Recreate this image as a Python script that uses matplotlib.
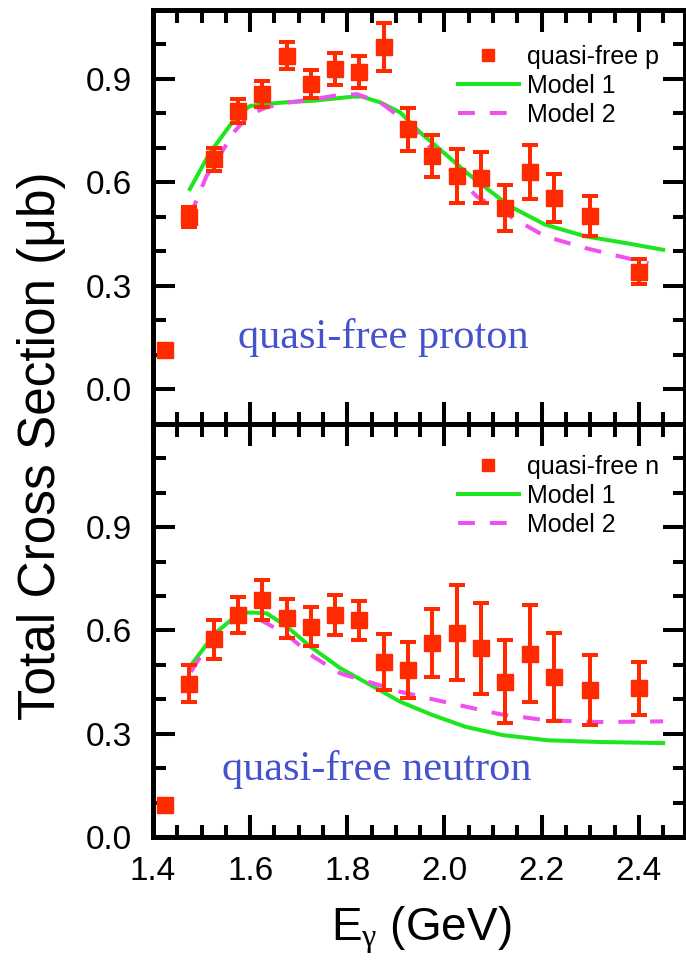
import matplotlib
matplotlib.use('Agg')
import matplotlib.pyplot as plt
from matplotlib.ticker import MultipleLocator, FixedLocator, FormatStrFormatter

plt.rcParams['font.family'] = ['Liberation Sans', 'DejaVu Sans']
plt.rcParams['mathtext.fontset'] = 'custom'
plt.rcParams['mathtext.rm'] = 'Liberation Sans'
plt.rcParams['mathtext.it'] = 'Liberation Serif'

# photon energy bins (GeV)
e_gamma = [1.425, 1.475, 1.525, 1.575, 1.625, 1.675, 1.725, 1.775, 1.825, 1.875,
           1.925, 1.975, 2.025, 2.075, 2.125, 2.175, 2.225, 2.30, 2.40]

# quasi-free proton data
sig_p = [0.115, 0.50, 0.667, 0.808, 0.856, 0.968, 0.886, 0.929, 0.920, 0.992,
         0.754, 0.677, 0.618, 0.614, 0.526, 0.630, 0.556, 0.504, 0.342]
err_p = [0.01, 0.03, 0.034, 0.035, 0.037, 0.04, 0.041, 0.045, 0.047, 0.07,
         0.063, 0.06, 0.078, 0.074, 0.068, 0.079, 0.07, 0.058, 0.037]

# quasi-free neutron data
sig_n = [0.092, 0.446, 0.574, 0.645, 0.688, 0.635, 0.611, 0.645, 0.630, 0.509,
         0.485, 0.563, 0.593, 0.548, 0.451, 0.533, 0.465, 0.427, 0.432]
err_n = [0.012, 0.053, 0.056, 0.053, 0.058, 0.056, 0.056, 0.058, 0.057, 0.081,
         0.082, 0.099, 0.138, 0.132, 0.121, 0.14, 0.127, 0.102, 0.077]

# model curves, proton
m1p_x = [1.476, 1.517, 1.573, 1.60, 1.668, 1.73, 1.813, 1.83, 1.868, 1.909,
         1.95, 1.998, 2.046, 2.094, 2.135, 2.207, 2.29, 2.375, 2.45]
m1p_y = [0.581, 0.686, 0.793, 0.822, 0.832, 0.837, 0.849, 0.849, 0.832, 0.803,
         0.745, 0.687, 0.628, 0.575, 0.531, 0.478, 0.444, 0.424, 0.405]
m2p_x = [1.476, 1.51, 1.569, 1.60, 1.634, 1.68, 1.725, 1.771, 1.82, 1.868,
         1.923, 1.95, 1.998, 2.066, 2.135, 2.207, 2.29, 2.375, 2.42]
m2p_y = [0.502, 0.618, 0.75, 0.798, 0.818, 0.832, 0.84, 0.851, 0.856, 0.832,
         0.774, 0.735, 0.657, 0.56, 0.502, 0.444, 0.41, 0.381, 0.366]

# model curves, neutron
m1n_x = [1.476, 1.528, 1.579, 1.607, 1.634, 1.676, 1.724, 1.786, 1.855, 1.909,
         1.976, 2.044, 2.12, 2.213, 2.32, 2.45]
m1n_y = [0.495, 0.592, 0.652, 0.652, 0.65, 0.611, 0.553, 0.49, 0.436, 0.393,
         0.354, 0.32, 0.296, 0.281, 0.276, 0.273]
m2n_x = [1.478, 1.53, 1.58, 1.60, 1.634, 1.676, 1.73, 1.786, 1.855, 1.909,
         1.998, 2.114, 2.21, 2.32, 2.45]
m2n_y = [0.48, 0.597, 0.64, 0.645, 0.621, 0.587, 0.524, 0.475, 0.446, 0.422,
         0.393, 0.357, 0.339, 0.334, 0.336]

red = '#ff2a00'
green = '#1ee61e'
magenta = '#f050f0'
blue = '#4452cc'

fig = plt.figure(figsize=(6.86, 9.66), dpi=100)
ax1 = fig.add_axes([0.223, 0.56108, 0.7755, 0.42857])
ax2 = fig.add_axes([0.223, 0.13354, 0.7755, 0.42754])


def panel(ax, sig, err, m1x, m1y, m2x, m2y, lab):
    ax.errorbar(e_gamma, sig, yerr=err, fmt='none', ecolor=red, elinewidth=2.9,
                capsize=6, capthick=2.9, zorder=3)
    ax.plot(e_gamma, sig, 's', color=red, ms=11, label=lab, zorder=4)
    ax.plot(m1x, m1y, '-', color=green, lw=2.9, label='Model 1', zorder=2)
    ax.plot(m2x, m2y, '--', color=magenta, lw=2.9, dashes=(4.2, 3.7),
            label='Model 2', zorder=2)
    ax.set_xlim(1.4, 2.495)
    ax.xaxis.set_major_locator(MultipleLocator(0.2))
    ax.xaxis.set_minor_locator(MultipleLocator(0.05))
    ax.yaxis.set_major_formatter(FormatStrFormatter('%.1f'))
    ax.xaxis.set_major_formatter(FormatStrFormatter('%.1f'))
    ax.yaxis.set_minor_locator(MultipleLocator(0.1))
    ax.tick_params(which='both', direction='in', top=True, right=True, width=2.9,
                   labelsize=24)
    ax.tick_params(which='major', length=16)
    ax.tick_params(which='minor', length=9)
    ax.tick_params(axis='y', pad=15)
    ax.tick_params(axis='x', pad=14)
    for s in ax.spines.values():
        s.set_linewidth(3.6)


panel(ax1, sig_p, err_p, m1p_x, m1p_y, m2p_x, m2p_y, 'quasi-free p')
panel(ax2, sig_n, err_n, m1n_x, m1n_y, m2n_x, m2n_y, 'quasi-free n')

ax1.set_ylim(-0.1, 1.1)
ax1.yaxis.set_major_locator(FixedLocator([0.0, 0.3, 0.6, 0.9]))
ax1.tick_params(labelbottom=False)
ax2.set_ylim(0.0, 1.2)
ax2.yaxis.set_major_locator(FixedLocator([0.0, 0.3, 0.6, 0.9]))

for ax, y0 in [(ax1, 0.915), (ax2, 0.925)]:
    ax.legend(loc='upper left', bbox_to_anchor=(0.573, y0), frameon=False,
              fontsize=18, handlelength=2.45, handletextpad=0.3,
              labelspacing=0.2, borderpad=0, borderaxespad=0,
              numpoints=1, markerscale=0.8)

ax1.text(0.16, 0.1836, 'quasi-free proton', transform=ax1.transAxes,
         family='Liberation Serif', fontsize=30.5, color=blue, va='baseline')
ax2.text(0.129, 0.138, 'quasi-free neutron', transform=ax2.transAxes,
         family='Liberation Serif', fontsize=30.5, color=blue, va='baseline')

ax2.set_xlabel(r'E$_\gamma$ (GeV)', fontsize=33)
ax2.xaxis.set_label_coords(0.504, -0.165)
fig.text(0.06, 1 - 446 / 966, 'Total Cross Section (μb)', rotation=90,
         ha='center', va='center', fontsize=37)

fig.savefig('out.png', dpi=100)
